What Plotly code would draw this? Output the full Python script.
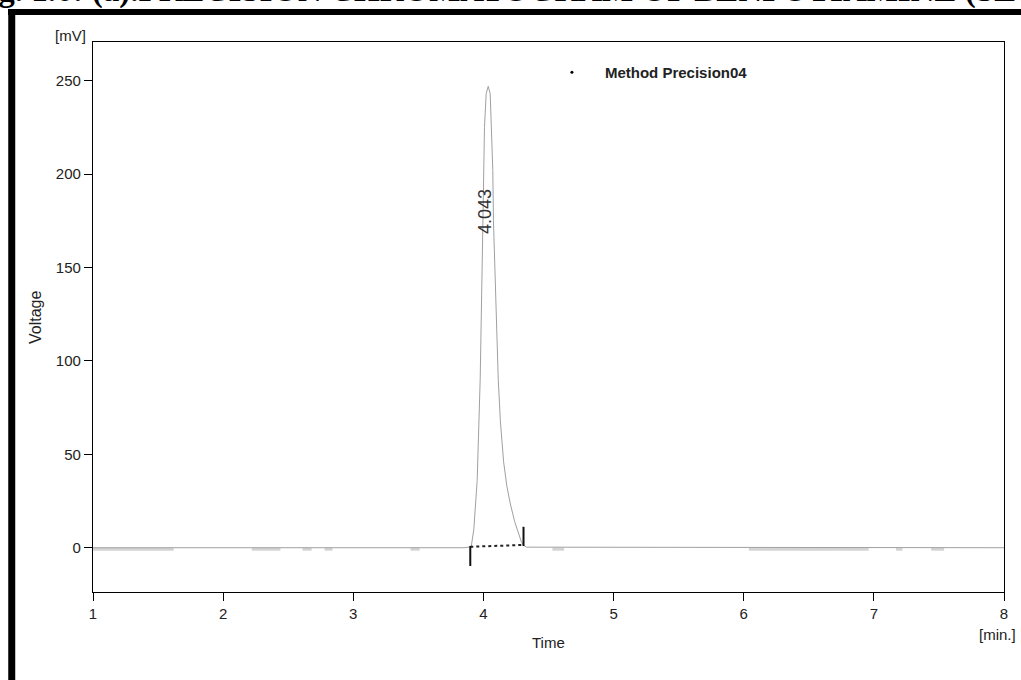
import plotly.graph_objects as go

# ---- data ----
time_min = [1.0, 3.85, 3.906, 3.926, 3.952, 3.975, 3.991, 3.995, 4.001, 4.008, 4.021,
            4.037, 4.052, 4.060, 4.072, 4.077, 4.085, 4.100, 4.114, 4.130, 4.155,
            4.180, 4.205, 4.240, 4.270, 4.290, 4.305, 4.330, 8.0]
voltage_mv = [0, 0, 0.5, 9.8, 36, 90, 154, 175, 202, 225, 243,
              247, 243, 225, 202, 175, 154, 118, 90, 68, 46,
              33, 24, 14, 7, 3.5, 1.5, 0.3, 0]

noise_start = [1.0, 2.22, 2.61, 2.78, 3.44, 4.53, 6.04, 7.17, 7.44]
noise_end = [1.62, 2.44, 2.68, 2.84, 3.51, 4.62, 6.96, 7.22, 7.54]
noise_level = -0.8

peak_rt = 4.043
peak_label_t = 4.016
peak_label_mv = 180
int_time = [3.899, 4.308]
int_base_mv = [0.5, 1.5]
int_tick_low = [-9.8, 0.9]
int_tick_high = [0.9, 11.2]

x_ticks = [1, 2, 3, 4, 5, 6, 7, 8]
y_ticks = [0, 50, 100, 150, 200, 250]
series_name = "Method Precision04"
title_text = "Fig. 1.6: (a).PRECISION CHROMATOGRAM OF BENFOTIAMINE (SET I)"

SANS = "Liberation Sans, Arial, sans-serif"

fig = go.Figure()

# noise segments along baseline
nx, ny = [], []
for a, b in zip(noise_start, noise_end):
    nx += [a, b, None]
    ny += [noise_level, noise_level, None]
fig.add_trace(go.Scatter(x=nx, y=ny, mode="lines", line=dict(color="#d4d4d4", width=3),
                         showlegend=False, hoverinfo="skip"))

# chromatogram
fig.add_trace(go.Scatter(x=time_min, y=voltage_mv, mode="lines",
                         line=dict(color="#a0a0a0", width=1), showlegend=False))

# integration baseline (dotted)
fig.add_trace(go.Scatter(x=int_time, y=int_base_mv, mode="lines",
                         line=dict(color="#222", width=2, dash="dot"), showlegend=False))

# integration tick marks
tx, ty = [], []
for t, lo, hi in zip(int_time, int_tick_low, int_tick_high):
    tx += [t, t, None]
    ty += [lo, hi, None]
fig.add_trace(go.Scatter(x=tx, y=ty, mode="lines", line=dict(color="#111", width=2),
                         showlegend=False))

# legend entry
fig.add_trace(go.Scatter(x=[None], y=[None], mode="markers", name=series_name,
                         marker=dict(color="black", size=3)))

fig.add_annotation(x=peak_label_t, y=peak_label_mv, xref="x", yref="y", text=f"{peak_rt:.3f}",
                   textangle=-90, showarrow=False, xanchor="center", yanchor="middle",
                   font=dict(family=SANS, size=18, color="#333"))

ann_font = dict(family=SANS, size=15, color="#222")
fig.add_annotation(x=0.5, y=-0.091, xref="paper", yref="paper", text="Time", showarrow=False,
                   font=ann_font, xanchor="center", yanchor="middle")
fig.add_annotation(x=-0.0637, y=0.5, xref="paper", yref="paper", text="Voltage", showarrow=False,
                   font=dict(family=SANS, size=16, color="#222"), textangle=-90,
                   xanchor="center", yanchor="middle")
fig.add_annotation(x=-0.0252, y=1.011, xref="paper", yref="paper", text="[mV]", showarrow=False,
                   font=ann_font, xanchor="center", yanchor="middle")
fig.add_annotation(x=1.0154, y=-0.078, xref="paper", yref="paper", text="[min.]", showarrow=False,
                   font=ann_font, xanchor="right", yanchor="middle")

# figure caption at top (cut off by the page edge, as in the source scan)
fig.add_annotation(x=-0.1387, y=1.0564, xref="paper", yref="paper", text=f"<b>{title_text}</b>",
                   showarrow=False, xanchor="left", yanchor="bottom",
                   font=dict(family="Liberation Serif, Times New Roman, serif", size=33, color="black"))

# thick page frame lines
fig.add_shape(type="line", xref="paper", yref="paper", x0=-0.0933, x1=1.05, y0=1.0545, y1=1.0545,
              line=dict(color="black", width=6))
fig.add_shape(type="line", xref="paper", yref="paper", x0=-0.0892, x1=-0.0892, y0=-0.2, y1=1.06,
              line=dict(color="black", width=7))

axis_common = dict(showgrid=False, zeroline=False, showline=True, linecolor="black", linewidth=1.3,
                   mirror=True, ticks="outside", ticklen=8, tickwidth=1.3, tickcolor="black",
                   tickfont=dict(family=SANS, size=15, color="#222"))

fig.update_xaxes(range=[1, 8], tickvals=x_ticks, **axis_common)
fig.update_yaxes(range=[-23.7, 270.7], tickvals=y_ticks, **axis_common)

fig.update_layout(
    width=1021, height=680,
    margin=dict(l=93, r=17, t=42, b=88),
    paper_bgcolor="white", plot_bgcolor="white",
    showlegend=True,
    legend=dict(x=0.4895, y=0.9745, xanchor="left", yanchor="top", bgcolor="rgba(0,0,0,0)",
                font=dict(family=SANS, size=15, color="#222", weight="bold"),
                itemwidth=56),
)

fig.write_html("out.html")
